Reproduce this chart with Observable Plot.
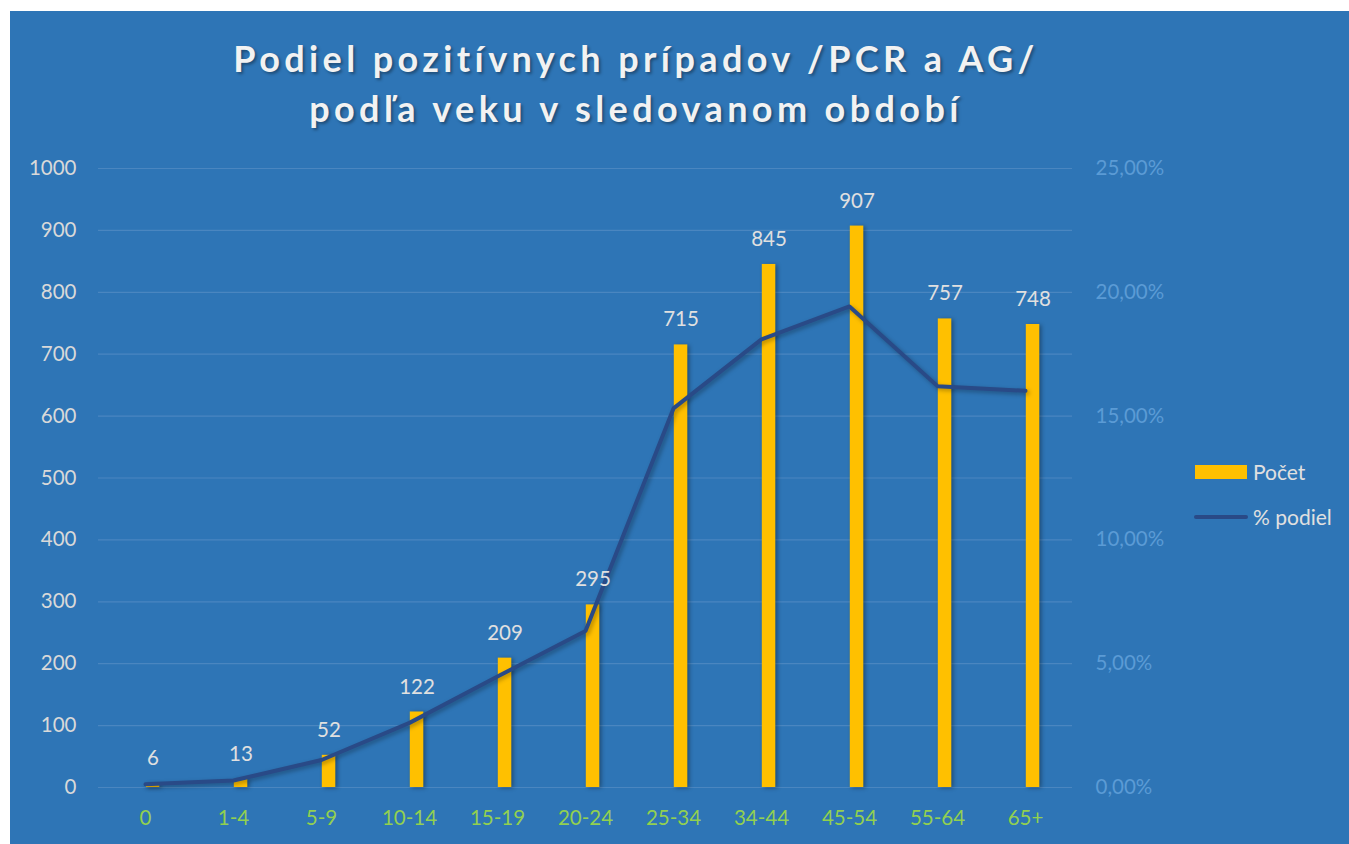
<!DOCTYPE html>
<html>
<head>
<meta charset="utf-8">
<script src="https://cdn.jsdelivr.net/npm/d3@7"></script>
<script src="https://cdn.jsdelivr.net/npm/@observablehq/plot@0.6"></script>
<style>
  html, body { margin: 0; padding: 0; background: #ffffff; }
  #panel { position: absolute; left: 10px; top: 11px; width: 1339px; height: 833px; background: #2E75B6; overflow: hidden; font-family: Lato, "Open Sans", sans-serif; }
  #title { position: absolute; left: 0; top: 22px; width: 1252px; text-align: center; color: #F2F2F2; font-weight: 700; font-size: 36px; line-height: 50px; letter-spacing: 4.4px; text-shadow: 2px 2px 3px rgba(0,0,0,0.35); }
  #chart { position: absolute; left: 0; top: 129px; }
  .leg { position: absolute; color: #E0E0E0; font-size: 21px; line-height: 21px; }
  .sw { position: absolute; }
</style>
</head>
<body>
<div id="panel">
  <div id="title">Podiel pozitívnych prípadov /PCR a AG/<br>podľa veku v sledovanom období</div>
  <div id="chart"></div>
  <div class="sw" style="left:1185px; top:454px; width:52px; height:14px; background:#FFC000;"></div>
  <div class="leg" style="left:1243px; top:450px;">Počet</div>
  <div class="sw" style="left:1184px; top:504px; width:54px; height:4px; background:#294A87; border-radius:2px;"></div>
  <div class="leg" style="left:1243px; top:495px;">% podiel</div>
</div>
<script>
const categories = ["0", "1-4", "5-9", "10-14", "15-19", "20-24", "25-34", "34-44", "45-54", "55-64", "65+"];
const counts = [6, 13, 52, 122, 209, 295, 715, 845, 907, 757, 748];
const shares = [0.13, 0.28, 1.11, 2.61, 4.48, 6.32, 15.31, 18.10, 19.43, 16.21, 16.02];
const leftTicks = [0, 100, 200, 300, 400, 500, 600, 700, 800, 900, 1000];
const rightTicks = [0, 5, 10, 15, 20, 25];
const rightTickLabels = ["0,00%", "5,00%", "10,00%", "15,00%", "20,00%", "25,00%"];

const countMax = 1000;   // left axis maximum
const shareMax = 25;     // right axis maximum (percent)
const k = countMax / shareMax;

const data = categories.map((c, i) => ({cat: c, count: counts[i], share: shares[i]}));

const chart = Plot.plot({
  width: 1339,
  height: 704,
  marginLeft: 88,
  marginRight: 277,
  marginTop: 28,
  marginBottom: 57,
  style: {background: "transparent", fontFamily: "Lato, 'Open Sans', sans-serif", fontSize: "20px", overflow: "visible"},
  x: {type: "band", domain: categories, padding: 0, align: 0.5},
  y: {domain: [0, countMax]},
  marks: [
    Plot.gridY(leftTicks, {stroke: "#4A86C0", strokeOpacity: 1, strokeWidth: 1.2}),
    Plot.barY(data, {x: "cat", y: "count", fill: "#FFC000", insetLeft: 44.8, insetRight: 29.7}),
    Plot.line(data, {x: "cat", y: d => d.share * k, stroke: "#294A87", strokeWidth: 4, strokeLinejoin: "round", strokeLinecap: "round"}),
    Plot.text(data, {x: "cat", y: "count", text: d => String(d.count), dx: 7.5, dy: -25, fill: "#E0E0E0", fontSize: 20.5}),
    Plot.axisY(leftTicks, {anchor: "left", tickSize: 0, tickPadding: 22, color: "#D9D9D9", label: null, fontSize: 20.5, tickFormat: d => String(d)}),
    Plot.axisY(rightTicks.map(p => p * k), {anchor: "right", tickSize: 0, tickPadding: 23, color: "#5B9BD5", label: null, fontSize: 20.5,
      tickFormat: d => rightTickLabels[rightTicks.indexOf(d / k)]}),
    Plot.axisX({anchor: "bottom", tickSize: 0, tickPadding: 23, color: "#92D050", label: null, fontSize: 20.5})
  ]
});

d3.select(chart).selectAll("g[aria-label='bar'] rect").style("filter", "drop-shadow(2px 1px 2px rgba(0,0,0,0.35))");
d3.select(chart).selectAll("g[aria-label='line'] path").style("filter", "drop-shadow(2px 2px 2px rgba(0,0,0,0.3))");
document.getElementById("chart").appendChild(chart);
</script>
</body>
</html>
